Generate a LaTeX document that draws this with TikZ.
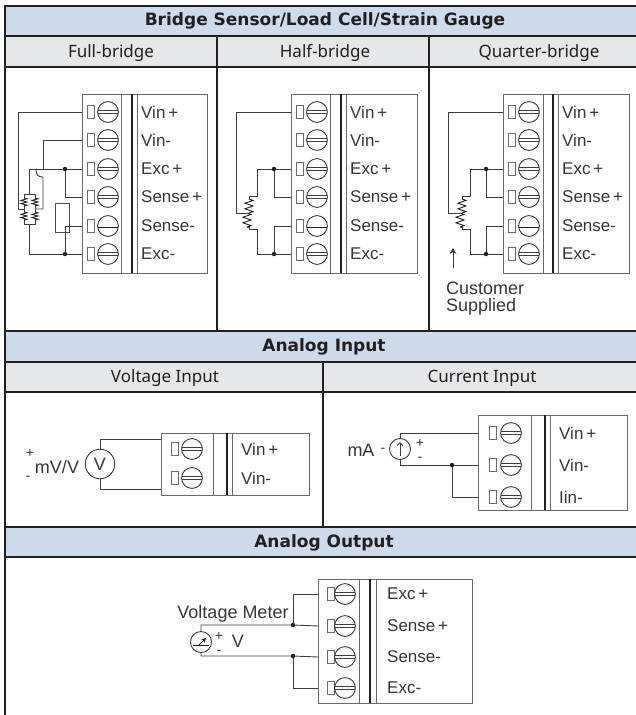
\documentclass[tikz,border=0pt]{standalone}
\usepackage{fontspec}
\setmainfont{Liberation Sans}
\newfontfamily\headfont{Noto Sans}
\newfontfamily\headbold{DejaVu Sans Bold}
\usetikzlibrary{arrows.meta}
\definecolor{hdr}{HTML}{CDDBED}
\definecolor{sub}{HTML}{E6E7E8}
\definecolor{ink}{HTML}{231F20}
\definecolor{blk}{HTML}{6A6A6A}
\definecolor{wirec}{HTML}{3C3C3C}
\tikzset{
  rule/.style={draw=ink,line width=2pt},
  hdrbar/.style={fill=hdr,draw=none},
  subbar/.style={fill=sub,draw=none},
  hdrtext/.style={font=\headbold\fontsize{17}{19}\selectfont,text=ink,inner sep=0pt},
  subtext/.style={font=\headfont\fontsize{17}{19}\selectfont,text=ink,inner sep=0pt},
  blockline/.style={draw=blk,line width=1pt},
  wire/.style={draw=wirec,line width=0.9pt},
  zig/.style={draw=ink,line width=0.9pt,line join=miter},
  jdot/.style={circle,fill=ink,draw=none,minimum size=4.5pt,inner sep=0pt},
  tlabel/.style={font=\fontsize{17}{20}\selectfont,text=ink!90,anchor=west,inner sep=0pt},
  note/.style={font=\fontsize{18}{20}\selectfont,text=ink!90,inner sep=0pt},
  sign/.style={font=\fontsize{14}{16}\selectfont,text=ink!90,inner sep=0pt},
}
% terminal block frame: x0,y0,x1,y1,inner,thick,thin
\newcommand\tframe[7]{
  \draw[blockline] (#1,#2) rectangle (#3,#4);
  \draw[blockline] (#5,#2) -- (#5,#4);
  \draw[draw=ink,line width=2.6pt] (#6,#2) -- (#6,#4);
  \draw[blockline] (#7,#2) -- (#7,#4);
}
\newcommand\setblock[4]{\def\bxl{#1}\def\bsq{#2}\def\bci{#3}\def\blb{#4}}
% row: name, y, label, number of lines in the screw
\newcommand\trow[4]{
  \coordinate (#1) at (\bxl,#2);
  \draw[blockline,line width=0.9pt] (\bsq,#2-6.5) rectangle (\bsq+7,#2+6.5);
  \draw[wirec,line width=0.9pt] (\bci,#2) circle (10.4);
  \ifnum#4=2
    \draw[wirec,line width=0.9pt] (\bci-10.2,#2-1.8) -- (\bci+10.2,#2-1.8);
    \draw[wirec,line width=0.9pt] (\bci-10.2,#2+1.8) -- (\bci+10.2,#2+1.8);
  \else
    \draw[ink,line width=1pt] (\bci-10.4,#2+1) -- (\bci+10.4,#2+1);
  \fi
  \node[tlabel] (#1t) at (\blb,#2) {#3};
}
% zigzag resistor: x, y top, y bottom, half amplitude (five peaks)
\newcommand\zz[4]{
  \pgfmathsetmacro\zs{(#3-#2)/10}
  \draw[zig] (#1,#2) -- ++(#4,\zs) -- ++(-2*#4,2*\zs) -- ++(2*#4,2*\zs) -- ++(-2*#4,2*\zs) -- ++(2*#4,2*\zs) -- ++(-#4,\zs);
}
\begin{document}
\begin{tikzpicture}[x=1pt,y=-1pt]
\useasboundingbox (0,0) rectangle (636,715);
\fill[white] (0,0) rectangle (636,715);
% bars
\fill[hdrbar] (5,6) rectangle (636,36);
\fill[subbar] (5,36) rectangle (636,67);
\fill[hdrbar] (5,331) rectangle (636,362);
\fill[subbar] (5,362) rectangle (636,392);
\fill[hdrbar] (5,527) rectangle (636,557);
% rules
\foreach \yy in {6,36,67,331,362,392,527,557}{ \draw[rule] (4,\yy) -- (636,\yy); }
\draw[rule] (5,5) -- (5,715);
\draw[rule] (217,36) -- (217,331);
\draw[rule] (429,36) -- (429,331);
\draw[rule] (323,362) -- (323,527);
% table text
\node[hdrtext] (h1) at (325,21) {Bridge Sensor/Load Cell/Strain Gauge};
\node[subtext] (s1) at (111,53) {Full-bridge};
\node[subtext] (s2) at (325,53) {Half-bridge};
\node[subtext] (s3) at (539,53) {Quarter-bridge};
\node[hdrtext] (h2) at (324,347) {Analog Input};
\node[subtext] (s4) at (165,378) {Voltage Input};
\node[subtext] (s5) at (482,378) {Current Input};
\node[hdrtext] (h3) at (324,543) {Analog Output};

% --- full-bridge
\tframe{82}{94}{207}{273}{121}{132}{137}
\setblock{82}{87}{108}{141}
\trow{a1}{112}{Vin\,+}{2}
\trow{a2}{140}{Vin-}{2}
\trow{a3}{169}{Exc\,+}{2}
\trow{a4}{197}{Sense\,+}{2}
\trow{a5}{226}{Sense-}{1}
\trow{a6}{254}{Exc-}{2}
\node[jdot] (ad1) at (65,169) {};
\node[jdot] (ad2) at (65,254) {};
\coordinate (brTL) at (24,194); \coordinate (brBR) at (35,224);
\coordinate (brT) at (29,194); \coordinate (brB) at (29,224);
\coordinate (brL) at (24,209); \coordinate (brR) at (35,209);
\draw[wire] (a1) -| (18,209) -- (brL);
\draw[wire] (a2) -| (43,169);
\draw[wire] (36,169) .. controls (36,175) and (38,177) .. (43,177) -- (43,209) -- (brR);
\draw[wire] (a3) -- (ad1) -- (29,169) -- (brT);
\draw[wire] (brB) -- (29,254) -- (ad2) -- (a6);
\draw[wire] (ad1) |- (a4);
\draw[wire] (ad2) |- (a5);
\draw[wire,draw=ink!80] (55,203) rectangle (69,232);
\draw[wire] (24,198) -- (brTL) -- (35,194) -- (35,198);
\zz{24}{198}{206}{3}
\zz{35}{198}{206}{3}
\draw[wire] (24,206) -- (24,212) (35,206) -- (35,212);
\zz{24}{212}{220}{3}
\zz{35}{212}{220}{3}
\draw[wire] (24,220) -- (24,224) -- (brBR) -- (35,220);

% --- half-bridge
\tframe{291}{94}{417}{273}{330}{341}{346}
\setblock{291}{296}{317}{350}
\trow{b1}{112}{Vin\,+}{2}
\trow{b2}{140}{Vin-}{2}
\trow{b3}{169}{Exc\,+}{2}
\trow{b4}{197}{Sense\,+}{2}
\trow{b5}{226}{Sense-}{1}
\trow{b6}{254}{Exc-}{2}
\node[jdot] (bd1) at (274,169) {};
\node[jdot] (bd2) at (274,254) {};
\coordinate (bm) at (247,213);
\draw[wire] (b1) -| (236,213) -- (bm);
\draw[wire] (b3) -- (bd1) -- (257,169) -- (257,196) -- (249,196) -- (249,199);
\draw[wire] (b6) -- (bd2) -- (257,254) -- (257,229) -- (249,229) -- (249,226);
\draw[wire] (bd1) |- (b4);
\draw[wire] (bd2) |- (b5);
\zz{249}{199}{213}{4}
\zz{247}{213}{227}{4}
\draw[wire] (247,227) -- (249,227);

% --- quarter-bridge
\tframe{503}{94}{629}{273}{543}{553}{558}
\setblock{503}{508}{529}{562}
\trow{c1}{112}{Vin\,+}{2}
\trow{c2}{140}{Vin-}{2}
\trow{c3}{169}{Exc\,+}{2}
\trow{c4}{197}{Sense\,+}{2}
\trow{c5}{226}{Sense-}{1}
\trow{c6}{254}{Exc-}{2}
\node[jdot] (cd1) at (486,169) {};
\node[jdot] (cd2) at (486,254) {};
\coordinate (cm) at (460,213);
\draw[wire] (c1) -| (448,213) -- (cm);
\draw[wire] (c3) -- (cd1) -- (470,169) -- (470,196) -- (462,196) -- (462,199);
\draw[wire] (c6) -- (cd2) -- (470,254) -- (470,229) -- (462,229) -- (462,226);
\draw[wire] (cd1) |- (c4);
\draw[wire] (cd2) |- (c5);
\zz{462}{199}{213}{4}
\zz{460}{213}{227}{4}
\draw[wire] (460,227) -- (462,227);
\node[note,anchor=west] (cs1) at (446,288) {Customer};
\node[note,anchor=west] (cs2) at (446,307) {Supplied};
\coordinate (arrB) at (453,268); \coordinate (arrT) at (453,248);
\draw[wire,-{Stealth[length=6pt,width=7pt]}] (arrB) -- (arrT);

% --- voltage input
\tframe{161}{433}{309}{495}{213}{227}{232}
\setblock{161}{171}{192}{241}
\trow{d1}{449}{Vin\,+}{2}
\trow{d2}{478}{Vin-}{2}
\node[draw=wirec,line width=0.9pt,circle,minimum size=29.5pt,inner sep=0pt,font=\fontsize{18}{20}\selectfont,text=ink!90] (vm) at (100,464) {V};
\draw[wire] (vm.north) -- (100,439) -- (161,439);
\draw[wire] (vm.south) -- (100,489) -- (161,489);
\node[note] (mvv) at (57,467) {mV/V};
\node[sign] (vp) at (30,453) {+};
\node[sign] (vn) at (28,478) {-};

% --- current input
\tframe{478}{415}{627}{510}{531}{545}{550}
\setblock{478}{489}{511}{559}
\trow{e1}{433}{Vin\,+}{2}
\trow{e2}{465}{Vin-}{2}
\trow{e3}{497}{Iin-}{2}
\node[draw=wirec,line width=0.9pt,circle,minimum size=21pt,inner sep=0pt] (am) at (400,449) {};
\draw[wire] (am.north) -- (400,433) -- (e1);
\draw[wire] (am.south) -- (400,465) -- (e2);
\node[jdot] (ed) at (452,465) {};
\draw[wire] (ed) |- (e3);
\draw[wire,-{Straight Barb[length=3pt,width=6pt]}] (400,456) -- (400,442);
\node[note] (ma) at (361,450) {mA};
\node[sign] (an) at (383,450) {-};
\node[sign] (ap) at (420,443) {+};
\node[sign] (ap2) at (420,459) {-};

% --- analog output
\tframe{318}{579}{472}{703}{359}{370}{376}
\setblock{318}{327}{345}{387}
\trow{f1}{594}{Exc\,+}{2}
\trow{f2}{626}{Sense\,+}{2}
\trow{f3}{657}{Sense-}{2}
\trow{f4}{688}{Exc-}{2}
\node[draw=wirec,line width=0.9pt,circle,minimum size=21pt,inner sep=0pt] (mt) at (201,642) {};
\node[jdot] (fd1) at (293,625) {};
\node[jdot] (fd2) at (293,656) {};
\draw[wire] (mt.north) -- (201,625) -- (fd1) -- (f2);
\draw[wire] (mt.south) -- (201,656) -- (fd2) -- (f3);
\draw[wire] (f1) -| (fd1);
\draw[wire] (fd2) |- (f4);
\draw[draw=ink,line width=1pt] (193,645) -- (209,645);
\draw[draw=ink,line width=1pt,-{Stealth[length=4.5pt,width=5pt]}] (199,645) -- (206,638);
\node[note] (vmtxt) at (233,614) {Voltage Meter};
\node[sign] (fp) at (219,636) {+};
\node[sign] (fn) at (219,652) {-};
\node[note] (fv) at (238,641) {V};
\end{tikzpicture}
\end{document}
